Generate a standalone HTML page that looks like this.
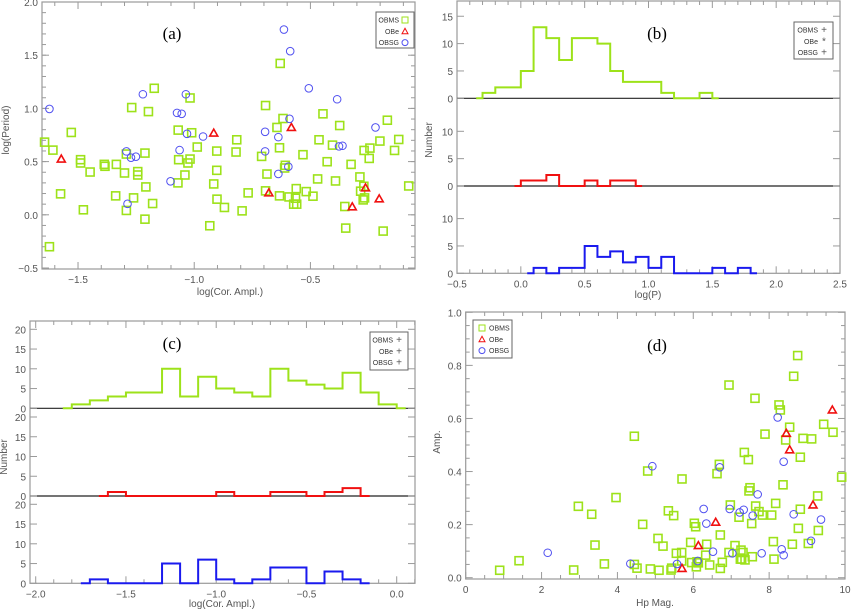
<!DOCTYPE html>
<html><head><meta charset="utf-8"><style>
html,body{margin:0;padding:0;background:#fff;}
svg{display:block;font-family:"Liberation Sans",sans-serif;}
.tk{fill:#555;font-size:10px;}
</style></head><body>
<svg id="fig" width="851" height="612" viewBox="0 0 851 612" xmlns="http://www.w3.org/2000/svg"></svg>
<script>
// ---------- Panel (a) data: log(Cor. Ampl.) vs log(Period)
const aMsX=[-1.644,-1.608,-1.529,-1.575,-1.623,-1.489,-1.489,-1.477,-1.448,-1.387,-1.384,-1.335,-1.338,-1.300,-1.292,-1.292,-1.269,-1.261,-1.243,-1.243,-1.212,-1.208,-1.212,-1.197,-1.179,-1.172,-1.069,-1.067,-1.070,-1.040,-1.027,-1.018,-1.018,-1.011,-0.987,-0.933,-0.916,-0.903,-0.903,-0.902,-0.870,-0.817,-0.820,-0.794,-0.768,-0.710,-0.693,-0.693,-0.687,-0.644,-0.633,-0.633,-0.630,-0.618,-0.611,-0.608,-0.592,-0.572,-0.564,-0.561,-0.559,-0.532,-0.518,-0.489,-0.469,-0.463,-0.446,-0.428,-0.405,-0.392,-0.374,-0.352,-0.348,-0.325,-0.287,-0.284,-0.273,-0.270,-0.269,-0.267,-0.247,-0.244,-0.201,-0.187,-0.169,-0.138,-0.120,-0.077];
const aMsY=[0.683,0.608,0.774,0.197,-0.300,0.518,0.487,0.047,0.402,0.474,0.456,0.474,0.178,0.393,0.571,0.041,1.008,0.159,0.406,0.374,0.580,0.262,-0.041,0.970,0.106,1.189,0.796,0.518,0.300,0.374,0.487,1.098,0.524,0.771,0.637,-0.103,0.290,0.599,0.418,0.147,0.069,0.705,0.590,0.037,0.206,0.549,1.027,0.225,0.383,0.821,0.630,0.178,1.423,0.905,0.440,0.465,0.168,0.100,0.156,0.246,0.100,0.565,0.218,0.175,0.337,0.705,0.949,0.499,0.655,0.318,0.839,0.078,-0.125,0.474,0.356,0.222,0.140,0.268,0.605,0.159,0.530,0.627,0.693,-0.153,0.889,0.605,0.708,0.271];
const aBeX=[-1.572,-0.916,-0.679,-0.582,-0.320,-0.263,-0.204];
const aBeY=[0.524,0.768,0.206,0.821,0.075,0.253,0.150];
const aSgX=[-1.623,-1.292,-1.287,-1.272,-1.251,-1.221,-1.102,-1.074,-1.063,-1.054,-1.036,-1.031,-0.962,-0.695,-0.695,-0.638,-0.638,-0.614,-0.595,-0.590,-0.587,-0.507,-0.385,-0.377,-0.362,-0.220];
const aSgY=[0.995,0.596,0.103,0.537,0.546,1.133,0.315,0.958,0.608,0.949,1.133,0.761,0.736,0.596,0.780,0.384,0.730,1.741,0.452,0.902,1.538,1.189,1.086,0.643,0.649,0.821];
const aXTicks=[-1.5,-1.0,-0.5];
const aYTicks=[-0.5,0.0,0.5,1.0,1.5,2.0];
// ---------- Panel (b) histograms of log(P), bin width 0.1 (values at bin centres)
const bMsStart=-0.35, bMsVals=[0,1,2,2,5,13,11,7,11,11,10,5,3,3,3,1,0,0,1,0];
const bBeStart=-0.05, bBeVals=[0,1,1,2,0,0,1,0,1,1,0];
const bSgStart=0.05, bSgVals=[0,1,0,1,1,5,3,4,2,3,1,3,0,0,0,1,0,1,0];
const bXTicks=[-0.5,0.0,0.5,1.0,1.5,2.0,2.5];
// ---------- Panel (c) histograms of log(Cor. Ampl.)
const cMsStart=-1.85, cMsVals=[0,1,2,3,4,4,10,3,8,5,4,3,10,7,6,5,9,4,1,0];
const cBeStart=-1.65, cBeVals=[0,1,0,0,0,0,0,1,0,0,1,1,0,1,2,0];
const cSgStart=-1.75, cSgVals=[0,1,0,0,0,5,0,6,1,0,1,4,4,0,3,1,0];
const cXTicks=[-2.0,-1.5,-1.0,-0.5,0.0];
// ---------- Panel (d) Hp Mag vs Amp.
const dMsX=[0.896,1.406,2.847,2.970,3.322,3.409,3.656,3.963,4.446,4.446,4.517,4.666,4.798,4.868,5.070,5.097,5.202,5.343,5.413,5.431,5.483,5.554,5.694,5.694,5.703,5.931,5.958,6.028,6.063,6.081,6.098,6.134,6.327,6.353,6.432,6.626,6.687,6.713,6.713,6.766,6.942,6.977,6.942,7.100,7.206,7.241,7.258,7.276,7.311,7.346,7.364,7.452,7.469,7.496,7.540,7.557,7.627,7.645,7.733,7.821,7.891,8.067,8.111,8.128,8.172,8.260,8.295,8.366,8.436,8.541,8.612,8.647,8.752,8.770,8.822,8.822,8.893,9.033,9.121,9.279,9.297,9.438,9.684,9.912];
const dMsY=[0.028,0.064,0.029,0.269,0.239,0.123,0.052,0.302,0.533,0.050,0.036,0.201,0.402,0.033,0.148,0.028,0.119,0.252,0.029,0.036,0.234,0.092,0.095,0.063,0.372,0.133,0.057,0.205,0.192,0.041,0.060,0.056,0.085,0.126,0.048,0.392,0.427,0.161,0.035,0.058,0.095,0.274,0.726,0.121,0.228,0.070,0.104,0.070,0.095,0.472,0.067,0.445,0.327,0.339,0.204,0.079,0.676,0.270,0.249,0.236,0.541,0.236,0.136,0.070,0.280,0.651,0.632,0.350,0.519,0.567,0.126,0.759,0.837,0.186,0.454,0.258,0.525,0.129,0.523,0.308,0.178,0.578,0.548,0.379];
const dBeX=[5.703,6.134,6.591,8.453,8.541,9.156,9.666];
const dBeY=[0.035,0.121,0.209,0.544,0.482,0.274,0.632];
const dSgX=[2.162,4.341,4.921,5.571,6.274,6.344,6.520,6.696,6.960,7.030,7.223,7.329,7.698,7.566,7.803,8.225,8.383,8.330,8.383,8.647,9.104,9.367,6.116];
const dSgY=[0.094,0.053,0.420,0.052,0.259,0.204,0.098,0.416,0.259,0.092,0.246,0.256,0.314,0.234,0.092,0.604,0.437,0.107,0.085,0.239,0.139,0.219,0.063];
const dXTicks=[0,2,4,6,8,10];
const dYTicks=[0.0,0.2,0.4,0.6,0.8,1.0];

const GREEN='#9de21a', RED='#f01010', BLUE='#1a1aee', LBLUE='#5050f0', FR='#9a9a9a';
const svg=document.getElementById('fig');
const NS='http://www.w3.org/2000/svg';
function mk(tag,attrs,parent){const e=document.createElementNS(NS,tag);for(const k in attrs)e.setAttribute(k,attrs[k]);(parent||svg).appendChild(e);return e;}
function lin(d0,d1,r0,r1){return v=>r0+(v-d0)*(r1-r0)/(d1-d0);}
function txt(x,y,s,anchor,cls,name,parent){const t=mk('text',{x:x,y:y,'text-anchor':anchor||'middle',class:cls||'tk'},parent);t.textContent=s;return t;}
function fmt(v,d){let s=v.toFixed(d);if(v<0)s='\u2212'+s.slice(1);return s;}
function frame(g,x0,y0,x1,y1,name){const r=mk('rect',{x:x0,y:y0,width:x1-x0,height:y1-y0,fill:'none',stroke:FR,'stroke-width':1.2},g);}
function xticks(g,X,x0,x1,yb,yt,d0,d1,major,minor,labels,dec,name){
  for(let v=Math.ceil(d0/minor-1e-6)*minor;v<=d1+1e-9;v+=minor){const px=X(v);if(px<x0||px>x1)continue;const isM=Math.abs(v/major-Math.round(v/major))<1e-6;const L=isM?7:4;
    mk('line',{x1:px,y1:yb,x2:px,y2:yb-L,stroke:FR,'stroke-width':1},g);mk('line',{x1:px,y1:yt,x2:px,y2:yt+L,stroke:FR,'stroke-width':1},g);}
  labels.forEach(v=>txt(X(v),yb+14,fmt(v,dec),'middle','tk',name,g));
}
function yticks(g,Y,x0,x1,vals,minor,labels,dec,name,yTop,yBot){
  vals.forEach(v=>{const py=Y(v);mk('line',{x1:x0,y1:py,x2:x0+7,y2:py,stroke:FR,'stroke-width':1},g);mk('line',{x1:x1,y1:py,x2:x1-7,y2:py,stroke:FR,'stroke-width':1},g);});
  minor.forEach(v=>{const py=Y(v);if(py<yTop||py>yBot)return;mk('line',{x1:x0,y1:py,x2:x0+4,y2:py,stroke:FR,'stroke-width':1},g);mk('line',{x1:x1,y1:py,x2:x1-4,y2:py,stroke:FR,'stroke-width':1},g);});
  labels.forEach(v=>txt(x0-4,Y(v)+4,dec===0?String(v):fmt(v,dec),'end','tk',name,g));
}
function sq(g,x,y,c,name){const e=mk('rect',{x:x-4,y:y-4,width:8,height:8,fill:'none',stroke:c,'stroke-width':1.6},g);}
function tri(g,x,y,c,name){const e=mk('polygon',{points:`${x},${y-4} ${x+4},${y+3} ${x-4},${y+3}`,fill:'none',stroke:c,'stroke-width':1.6},g);}
function circ(g,x,y,c,name){const e=mk('circle',{cx:x,cy:y,r:3.8,fill:'none',stroke:c,'stroke-width':1},g);}
function hist(g,X,Y,start,vals,c,name){let d=`M${X(start)},${Y(vals[0])}`;for(let i=1;i<vals.length;i++){d+=` H${X(start+(i-0.5)*0.1)} V${Y(vals[i])}`;}d+=` H${X(start+(vals.length-1)*0.1)}`;const p=mk('path',{d:d,fill:'none',stroke:c,'stroke-width':2},g);}
function legend(g,x0,y0,w,h,entries,symLeft,name){
  const r=mk('rect',{x:x0,y:y0,width:w,height:h,fill:'#fff',stroke:'#666','stroke-width':1},g);
  entries.forEach((e,i)=>{const y=y0+8+i*11.3;
    const sx=symLeft?x0+9:x0+w-9;
    if(e.s==='sq'){const q=mk('rect',{x:sx-3,y:y-3,width:6,height:6,fill:'none',stroke:e.c,'stroke-width':1},g);}
    else if(e.s==='tri'){mk('polygon',{points:`${sx},${y-3} ${sx+3},${y+2.5} ${sx-3},${y+2.5}`,fill:'none',stroke:e.c,'stroke-width':1},g);}
    else if(e.s==='ci'){mk('circle',{cx:sx,cy:y,r:3,fill:'none',stroke:e.c,'stroke-width':1},g);}
    else {txt(sx,y+3,e.s,'middle','tk','legend-symbol',g).setAttribute('fill',e.c);}
    if(symLeft)txt(x0+16,y+2.5,e.t,'start','tk','legend-entry',g).setAttribute('style','font-size:7px;fill:#333');
    else txt(x0+w-15,y+2.5,e.t,'end','tk','legend-entry',g).setAttribute('style','font-size:7px;fill:#333');
  });
}
function plabel(g,x,y,s,name){const t=txt(x,y,s,'middle','tk',name,g);t.setAttribute('style','font-family:"Liberation Serif",serif;font-size:17px;fill:#000');}
function ytitle(g,x,y,s,name){const t=txt(x,y,s,'middle','tk',name,g);t.setAttribute('transform',`rotate(-90 ${x} ${y})`);t.setAttribute('style','font-size:10px;fill:#555');}
function range(a,b,s){const r=[];for(let v=a;v<=b+1e-9;v+=s)r.push(+v.toFixed(4));return r;}

// ===== Panel (a)
{const g=mk('g',{});
 const x0=42,x1=415,y0=2,y1=269;const X=lin(-1.655,-0.05,x0,x1),Y=lin(-0.5,2.0,268,2);
 frame(g,x0,y0,x1,y1,'panel-a-frame');
 xticks(g,X,x0,x1,y1,y0,-1.66,-0.05,0.5,0.1,aXTicks,1,'x-tick-label');
 yticks(g,Y,x0,x1,aYTicks,range(-0.4,1.9,0.1),aYTicks,1,'y-tick-label',y0,y1);
 aMsX.forEach((v,i)=>sq(g,X(v),Y(aMsY[i]),GREEN,'obms-point'));
 aBeX.forEach((v,i)=>tri(g,X(v),Y(aBeY[i]),RED,'obe-point'));
 aSgX.forEach((v,i)=>circ(g,X(v),Y(aSgY[i]),LBLUE,'obsg-point'));
 legend(g,376,12,38,36,[{t:'OBMS',s:'sq',c:GREEN},{t:'OBe',s:'tri',c:RED},{t:'OBSG',s:'ci',c:LBLUE}],false,'legend-a');
 plabel(g,172,39,'(a)','panel-label-a');
 txt(230,295,'log(Cor. Ampl.)','middle','tk','x-axis-title-a');
 ytitle(g,9,130,'log(Period)','y-axis-title-a');}

// ===== Panel (b)
{const g=mk('g',{});
 const x0=457,x1=840,top=1,zs=[98.3,186,273.3],k=5.47;const X=lin(-0.5,2.5,x0,x1);
 frame(g,x0,top,x1,zs[2],'panel-b-frame');
 xticks(g,X,x0,x1,zs[2],top,-0.5,2.5,0.5,0.1,bXTicks,1,'x-tick-label');
 const sets=[[bMsStart,bMsVals,GREEN,'obms-hist',[0,5,10,15]],[bBeStart,bBeVals,RED,'obe-hist',[0,5,10]],[bSgStart,bSgVals,BLUE,'obsg-hist',[0,5,10]]];
 sets.forEach((s,i)=>{const z=zs[i];const Y=v=>z-v*k;
   if(i<2)mk('line',{x1:x0,y1:z,x2:x1,y2:z,stroke:'#222','stroke-width':1.2},g);
   yticks(g,Y,x0,x1,s[4],[],s[4],0,'y-tick-label',0,999);
   hist(g,X,Y,s[0],s[1],s[2],s[3]);});
 legend(g,794,22,39,37,[{t:'OBMS',s:'+',c:GREEN},{t:'OBe',s:'*',c:RED},{t:'OBSG',s:'+',c:BLUE}],false,'legend-b');
 plabel(g,657,39,'(b)','panel-label-b');
 txt(648,298,'log(P)','middle','tk','x-axis-title-b');
 ytitle(g,432,140,'Number','y-axis-title-b');}

// ===== Panel (c)
{const g=mk('g',{});
 const x0=30,x1=415,top=321,zs=[408.3,496,583.3],k=3.95;const X=lin(-2.0,0.0,35.7,396.7);
 frame(g,x0,top,x1,zs[2],'panel-c-frame');
 xticks(g,X,x0,x1,zs[2],top,-2.03,0.1,0.5,0.1,cXTicks,1,'x-tick-label');
 const sets=[[cMsStart,cMsVals,GREEN,'obms-hist'],[cBeStart,cBeVals,RED,'obe-hist'],[cSgStart,cSgVals,BLUE,'obsg-hist']];
 sets.forEach((s,i)=>{const z=zs[i];const Y=v=>z-v*k;
   if(i<2)mk('line',{x1:x0,y1:z,x2:x1,y2:z,stroke:'#222','stroke-width':1.2},g);
   yticks(g,Y,x0,x1,[0,5,10,15,20],[],[0,5,10,15,20],0,'y-tick-label',0,999);
   hist(g,X,Y,s[0],s[1],s[2],s[3]);});
 legend(g,370,332,38,38,[{t:'OBMS',s:'+',c:GREEN},{t:'OBe',s:'+',c:RED},{t:'OBSG',s:'+',c:BLUE}],false,'legend-c');
 plabel(g,172,349,'(c)','panel-label-c');
 txt(222,607,'log(Cor. Ampl.)','middle','tk','x-axis-title-c');
 ytitle(g,7,457,'Number','y-axis-title-c');}

// ===== Panel (d)
{const g=mk('g',{});
 const x0=465.7,x1=845,y0=312,y1=579;const X=lin(0,10,x0,x1),Y=lin(0,1,577.7,312.3);
 frame(g,x0,y0,x1,y1,'panel-d-frame');
 xticks(g,X,x0,x1,y1,y0,0,10,2,0.5,dXTicks,0,'x-tick-label');
 yticks(g,Y,x0,x1,dYTicks,range(0.05,0.95,0.05).filter(v=>Math.abs(v*5-Math.round(v*5))>1e-6),dYTicks,1,'y-tick-label',y0,y1);
 dMsX.forEach((v,i)=>sq(g,X(v),Y(dMsY[i]),GREEN,'obms-point'));
 dBeX.forEach((v,i)=>tri(g,X(v),Y(dBeY[i]),RED,'obe-point'));
 dSgX.forEach((v,i)=>circ(g,X(v),Y(dSgY[i]),LBLUE,'obsg-point'));
 legend(g,473,320,39,38,[{t:'OBMS',s:'sq',c:GREEN},{t:'OBe',s:'tri',c:RED},{t:'OBSG',s:'ci',c:LBLUE}],true,'legend-d');
 plabel(g,657,351,'(d)','panel-label-d');
 txt(655,606,'Hp Mag.','middle','tk','x-axis-title-d');
 ytitle(g,440,442,'Amp.','y-axis-title-d');}
</script>
</body></html>
